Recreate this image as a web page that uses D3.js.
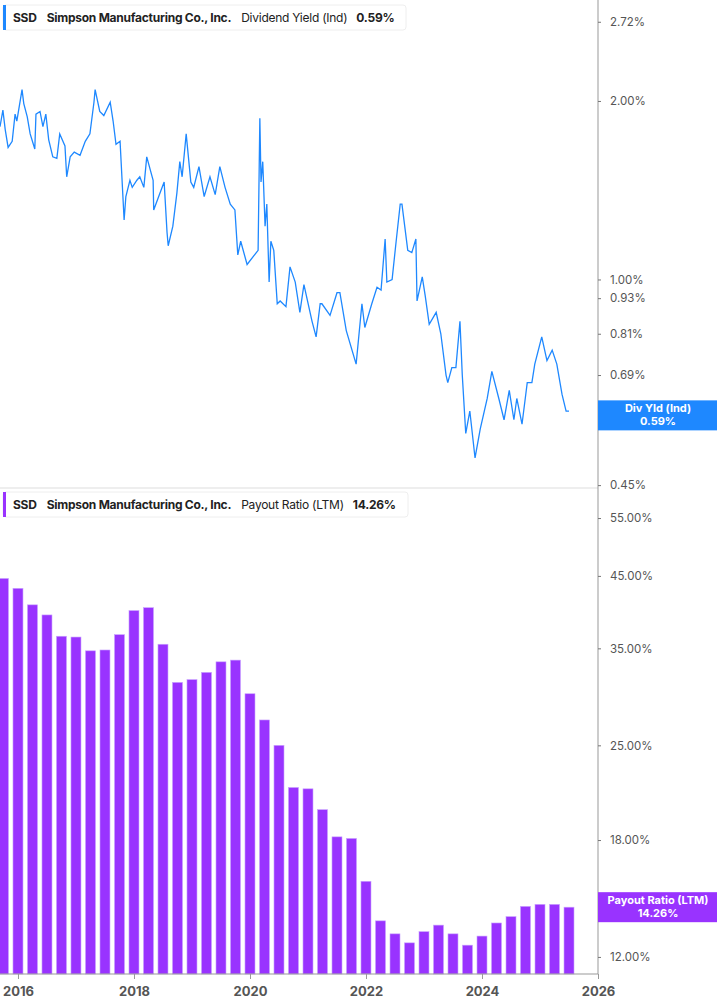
<!DOCTYPE html>
<html><head><meta charset="utf-8">
<script src="https://cdn.jsdelivr.net/npm/d3@7/dist/d3.min.js"></script>
<style>body{margin:0;background:#fff;font-family:Inter,"Open Sans",sans-serif}</style>
</head><body><svg id="c" width="717" height="1005"></svg>
<script>
const yieldDates=[2015.69,2015.74,2015.78,2015.83,2015.90,2015.95,2015.98,2016.07,2016.10,2016.16,2016.21,2016.29,2016.31,2016.38,2016.43,2016.48,2016.53,2016.60,2016.67,2016.72,2016.81,2016.84,2016.90,2016.97,2017.07,2017.16,2017.24,2017.31,2017.33,2017.41,2017.48,2017.59,2017.64,2017.69,2017.76,2017.83,2017.86,2017.93,2017.97,2018.05,2018.10,2018.17,2018.22,2018.33,2018.34,2018.45,2018.52,2018.57,2018.59,2018.67,2018.74,2018.79,2018.83,2018.90,2018.98,2019.03,2019.12,2019.21,2019.31,2019.40,2019.48,2019.57,2019.66,2019.74,2019.79,2019.84,2019.95,2020.14,2020.17,2020.19,2020.22,2020.26,2020.29,2020.33,2020.36,2020.41,2020.47,2020.52,2020.62,2020.69,2020.78,2020.86,2020.93,2021.07,2021.14,2021.21,2021.24,2021.38,2021.50,2021.55,2021.66,2021.83,2021.93,2021.98,2022.10,2022.19,2022.26,2022.33,2022.36,2022.45,2022.52,2022.59,2022.62,2022.72,2022.79,2022.86,2022.88,2022.97,2023.02,2023.09,2023.21,2023.29,2023.38,2023.41,2023.48,2023.55,2023.62,2023.66,2023.72,2023.79,2023.88,2023.97,2024.09,2024.17,2024.29,2024.38,2024.47,2024.55,2024.60,2024.69,2024.78,2024.86,2024.91,2025.03,2025.12,2025.21,2025.29,2025.38,2025.45,2025.50,2025.55,2025.62];
const yieldVals=[1.81,1.93,1.79,1.67,1.71,1.90,1.85,2.09,1.98,1.88,1.76,1.66,1.90,1.92,1.81,1.90,1.72,1.61,1.60,1.76,1.68,1.49,1.61,1.64,1.62,1.71,1.76,1.99,2.09,1.92,1.89,1.99,1.85,1.69,1.71,1.26,1.38,1.47,1.43,1.47,1.49,1.43,1.61,1.47,1.31,1.40,1.46,1.20,1.14,1.23,1.40,1.58,1.49,1.76,1.46,1.43,1.55,1.38,1.49,1.39,1.55,1.43,1.34,1.31,1.10,1.16,1.06,1.12,1.87,1.46,1.58,1.23,1.34,0.99,1.16,1.12,0.91,0.92,0.90,1.05,0.99,0.88,0.98,0.85,0.80,0.91,0.91,0.87,0.95,0.95,0.82,0.72,0.91,0.83,0.91,0.97,0.96,1.17,0.99,1.00,1.16,1.34,1.34,1.12,1.11,1.17,0.92,1.01,0.94,0.84,0.88,0.81,0.69,0.67,0.71,0.71,0.85,0.69,0.55,0.60,0.50,0.56,0.63,0.70,0.63,0.58,0.65,0.58,0.63,0.57,0.67,0.67,0.72,0.80,0.73,0.76,0.72,0.64,0.60,0.60];
const ratioDates=d3.range(40).map(i=>2015.75+i*0.25);
const ratioVals=[44.6,43.1,40.7,39.3,36.5,36.4,34.7,34.8,36.7,39.9,40.3,35.5,31.1,31.4,32.2,33.4,33.6,29.9,27.3,25.0,21.6,21.5,20.0,18.2,18.1,15.6,13.6,13.0,12.6,13.1,13.4,13.0,12.5,12.9,13.5,13.8,14.3,14.4,14.4,14.26];
const yieldTicks=[2.72,2.00,1.00,0.93,0.81,0.69,0.57,0.45];
const ratioTicks=[55,45,35,25,18,15,12];
const yearTicks=[2016,2018,2020,2022,2024,2026];

const svg=d3.select("#c");
const W=598;
const x=d3.scaleLinear().domain([2015.69,2026.0]).range([0,W]);
const y1=d3.scaleLog().domain([0.445,2.96]).range([488,0]);
const y2=d3.scaleLog().domain([11.31,60.2]).range([974,492]);
const grey="#555", lc="#1e88ff", pc="#9933ff";

svg.append("g").selectAll("rect").data(ratioVals).join("rect")
 .attr("x",(d,i)=>x(ratioDates[i])-5).attr("width",10)
 .attr("y",d=>y2(d)).attr("height",d=>974-y2(d))
 .attr("fill",pc).attr("stroke","#c9a3ff").attr("stroke-width",0.6);

const pts=yieldDates.map((d,i)=>[d,yieldVals[i]]);
svg.append("path").datum(pts).attr("fill","none").attr("stroke",lc).attr("stroke-width",1.3)
 .attr("d",d3.line().x(d=>x(d[0])).y(d=>y1(d[1])));

svg.append("line").attr("x1",0).attr("x2",W).attr("y1",488).attr("y2",488).attr("stroke","#ddd");
svg.append("line").attr("x1",W).attr("x2",W).attr("y1",0).attr("y2",974).attr("stroke","#999");
svg.append("line").attr("x1",0).attr("x2",W).attr("y1",974).attr("y2",974).attr("stroke","#999");

function tag(yc,col,l1,l2){
 svg.append("rect").attr("x",W).attr("y",yc-15).attr("width",119).attr("height",30).attr("fill",col);
 svg.append("text").attr("x",W+60).attr("y",yc-3).attr("text-anchor","middle").attr("fill","#fff").attr("font-size",11).attr("font-weight",700).text(l1);
 svg.append("text").attr("x",W+60).attr("y",yc+10).attr("text-anchor","middle").attr("fill","#fff").attr("font-size",11).attr("font-weight",700).text(l2);
}
tag(y1(0.59),lc,"Div Yld (Ind)","0.59%");
tag(y2(14.26),pc,"Payout Ratio (LTM)","14.26%");

const ax1=svg.append("g").attr("transform",`translate(${W},0)`).call(d3.axisRight(y1).tickValues(yieldTicks.filter(v=>v!==0.57)).tickFormat(d=>d.toFixed(2)+"%").tickSize(3));
const ax2=svg.append("g").attr("transform",`translate(${W},0)`).call(d3.axisRight(y2).tickValues(ratioTicks.filter(v=>v!==15)).tickFormat(d=>d.toFixed(2)+"%").tickSize(3));
[ax1,ax2].forEach(a=>{a.select(".domain").remove();a.selectAll("line").attr("stroke","#777");
 a.selectAll("text").attr("fill",grey).attr("font-size",11.5).attr("x",12).attr("font-family","Inter,sans-serif");});
const ax3=svg.append("g").attr("transform","translate(0,974)").call(d3.axisBottom(x).tickValues(yearTicks).tickFormat(d3.format("d")).tickSize(5));
ax3.select(".domain").remove();ax3.selectAll("line").attr("stroke","#999");
ax3.selectAll("text").attr("fill",grey).attr("font-size",13).attr("font-weight",700).attr("dy","1.1em").attr("font-family","Inter,sans-serif");

function legend(y0,w,col,metric,val){
 const g=svg.append("g").attr("transform",`translate(3,${y0})`);
 g.append("rect").attr("width",w).attr("height",25).attr("rx",3).attr("fill","#fff").attr("stroke","#eee");
 g.append("rect").attr("width",3).attr("height",25).attr("fill",col);
 const t=g.append("text").attr("x",10).attr("y",17).attr("font-size",12).attr("fill","#222").attr("letter-spacing","-0.25");
 t.append("tspan").attr("font-weight",700).text("SSD");
 t.append("tspan").attr("dx",10).attr("font-weight",700).text("Simpson Manufacturing Co., Inc.");
 t.append("tspan").attr("dx",10).text(metric);
 t.append("tspan").attr("dx",9).attr("font-weight",700).text(val);
}
legend(5,403,lc,"Dividend Yield (Ind)","0.59%");
legend(492,405,pc,"Payout Ratio (LTM)","14.26%");
</script></body></html>
